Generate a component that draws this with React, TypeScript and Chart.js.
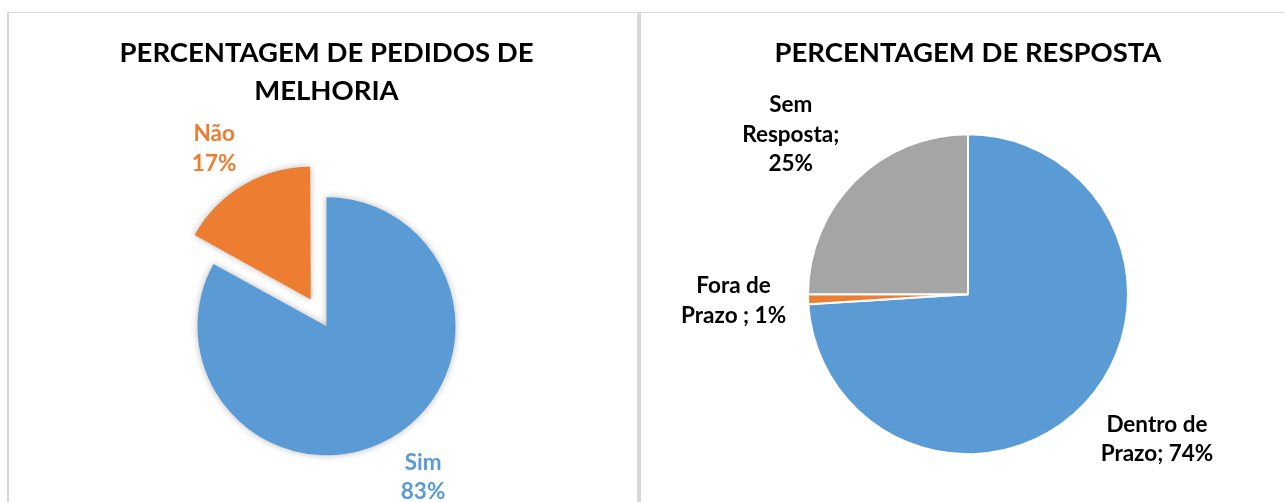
import { useEffect, useRef } from "react";
import { Chart, registerables } from "chart.js";

Chart.register(...registerables);

// ---------- data ----------
const leftTitle = ["PERCENTAGEM DE PEDIDOS DE", "MELHORIA"];
const leftCategories = ["Sim", "Não"];
const leftValues = [83, 17];
const leftColors = ["#5B9BD5", "#ED7D31"];
const leftExplode = [0, 124];
const leftLabelLines = [
  ["Sim", "83%"],
  ["Não", "17%"],
];

const rightTitle = "PERCENTAGEM DE RESPOSTA";
const rightCategories = ["Dentro de Prazo", "Fora de Prazo ", "Sem Resposta"];
const rightValues = [74, 1, 25];
const rightColors = ["#5B9BD5", "#ED7D31", "#A5A5A5"];
const rightLabelLines = [
  ["Dentro de", "Prazo; 74%"],
  ["Fora de", "Prazo ; 1%"],
  ["Sem", "Resposta;", "25%"],
];

// ---------- plugins ----------
const pieShadow = {
  id: "pieShadow",
  beforeDatasetsDraw(chart: any, _a: any, opts: any) {
    if (!opts || !opts.enabled) return;
    const c = chart.ctx;
    c.save();
    c.shadowColor = "rgba(0,0,0,0.28)";
    c.shadowBlur = 7;
    c.shadowOffsetX = 0;
    c.shadowOffsetY = 0;
  },
  afterDatasetsDraw(chart: any, _a: any, opts: any) {
    if (!opts || !opts.enabled) return;
    chart.ctx.restore();
  },
};

const pieLabels = {
  id: "pieLabels",
  afterDatasetsDraw(chart: any, _a: any, opts: any) {
    const ctx = chart.ctx;
    const meta = chart.getDatasetMeta(0);
    ctx.save();
    ctx.font = `bold ${opts.size}px Lato`;
    ctx.textAlign = "center";
    ctx.textBaseline = "middle";
    meta.data.forEach((arc: any, i: number) => {
      const { x, y, startAngle, endAngle, outerRadius } = arc.getProps(
        ["x", "y", "startAngle", "endAngle", "outerRadius"],
        true
      );
      const off = (arc.options.offset || 0) / 4;
      const mid = (startAngle + endAngle) / 2;
      const ux = Math.cos(mid);
      const uy = Math.sin(mid);
      const dist = outerRadius + off + opts.gap;
      const px = x + ux * dist;
      const py = y + uy * dist;
      const lines: string[] = opts.lines[i];
      const w = Math.max(...lines.map((l) => ctx.measureText(l).width));
      const h = lines.length * opts.lineHeight;
      const sx = Math.max(-1, Math.min(1, ux * 2));
      const cx = px + (sx * w) / 2;
      const cy = py + (uy * h) / 2;
      ctx.fillStyle = opts.colors[i];
      lines.forEach((l, j) => {
        ctx.fillText(l, cx, cy - h / 2 + opts.lineHeight * (j + 0.5));
      });
    });
    ctx.restore();
  },
};

const titleFont = { family: "Lato", size: 27.5, weight: "bold" as const, lineHeight: "38px" };

function PieCanvas(props: {
  width: number;
  height: number;
  left: number;
  config: any;
}) {
  const ref = useRef<HTMLCanvasElement | null>(null);
  useEffect(() => {
    if (!ref.current) return;
    const chart = new Chart(ref.current, props.config);
    return () => chart.destroy();
  }, []);
  return (
    <canvas
      ref={ref}
      width={props.width}
      height={props.height}
      style={{
        position: "absolute",
        left: props.left,
        top: 0,
        width: props.width,
        height: props.height,
      }}
    />
  );
}

export default function App() {
  const leftConfig = {
    type: "pie",
    data: {
      labels: leftCategories,
      datasets: [
        {
          data: leftValues,
          backgroundColor: leftColors,
          borderWidth: 0,
          offset: leftExplode,
          radius: 129,
        },
      ],
    },
    options: {
      responsive: false,
      animation: false,
      events: [],
      layout: { padding: { left: 14, top: 0, right: 0, bottom: 0 } },
      plugins: {
        legend: { display: false },
        tooltip: { enabled: false },
        title: {
          display: true,
          text: leftTitle,
          color: "#000000",
          font: titleFont,
          padding: { top: 34.5, bottom: 0 },
        },
        pieShadow: { enabled: true },
        pieLabels: {
          lines: leftLabelLines,
          colors: leftColors,
          size: 22.5,
          lineHeight: 29.5,
          gap: 17,
        },
      },
    },
    plugins: [pieShadow, pieLabels],
  };

  const rightConfig = {
    type: "pie",
    data: {
      labels: rightCategories,
      datasets: [
        {
          data: rightValues,
          backgroundColor: rightColors,
          borderColor: "#FFFFFF",
          borderWidth: 2,
          radius: 160,
        },
      ],
    },
    options: {
      responsive: false,
      animation: false,
      events: [],
      layout: { padding: { left: 10, top: 0, right: 0, bottom: 0 } },
      plugins: {
        legend: { display: false },
        tooltip: { enabled: false },
        title: {
          display: true,
          text: rightTitle,
          color: "#000000",
          font: titleFont,
          padding: { top: 34.5, bottom: 0 },
        },
        pieShadow: { enabled: false },
        pieLabels: {
          lines: rightLabelLines,
          colors: ["#000000", "#000000", "#000000"],
          size: 22.5,
          lineHeight: 29.5,
          gap: 22,
        },
      },
    },
    plugins: [pieShadow, pieLabels],
  };

  return (
    <div
      style={{
        position: "absolute",
        left: 0,
        top: 0,
        width: 1285,
        height: 502,
        overflow: "hidden",
        background: "#FFFFFF",
      }}
    >
      <div
        style={{
          position: "absolute",
          left: 7,
          top: 12,
          width: 628,
          height: 600,
          borderTop: "1px solid #D9D9D9",
          borderLeft: "2px solid #D9D9D9",
          borderRight: "2px solid #D9D9D9",
        }}
      />
      <div
        style={{
          position: "absolute",
          left: 639,
          top: 12,
          width: 700,
          height: 600,
          borderTop: "1px solid #D9D9D9",
          borderLeft: "2px solid #D9D9D9",
        }}
      />
      <PieCanvas width={639} height={542} left={0} config={leftConfig} />
      <PieCanvas width={644} height={516} left={641} config={rightConfig} />
    </div>
  );
}
